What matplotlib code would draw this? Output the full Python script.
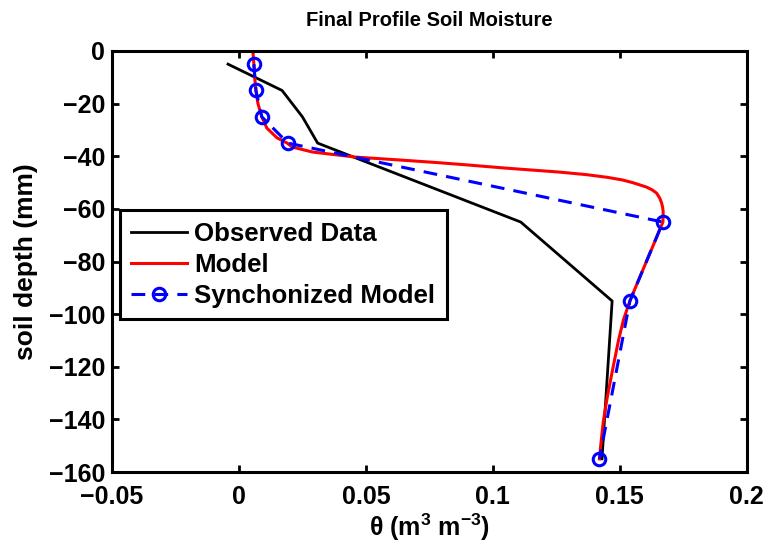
import matplotlib
matplotlib.use("Agg")
import matplotlib.pyplot as plt

plt.rcParams['font.family'] = ['Liberation Sans', 'DejaVu Sans']
plt.rcParams['font.weight'] = 'bold'
plt.rcParams['axes.unicode_minus'] = True
plt.rcParams['mathtext.fontset'] = 'custom'
plt.rcParams['mathtext.rm'] = 'Liberation Sans'
plt.rcParams['mathtext.bf'] = 'Liberation Sans:bold'

# observed profile
obs_depth = [-5, -15, -25, -35, -65, -95, -155]
obs_theta = [-0.0043, 0.017, 0.025, 0.031, 0.111, 0.147, 0.143]

# synchronized model (values at observation depths)
sync_depth = [-5, -15, -25, -35, -65, -95, -155]
sync_theta = [0.0059, 0.0067, 0.009, 0.0193, 0.167, 0.154, 0.142]

# continuous model profile
model_depth = [0, -5, -10, -15, -20, -25, -29.3, -33, -35, -36.5, -38.4, -40.3,
               -41.4, -42.4, -43.3, -44.5, -46, -47, -48, -49, -50, -51.7,
               -52.8, -54, -56, -57.8, -59.5, -61, -65, -72, -80, -88, -95,
               -102, -110, -122, -132, -141, -150, -155]
model_theta = [0.0055, 0.0059, 0.0062, 0.0067, 0.0075, 0.009, 0.011, 0.015,
               0.019, 0.021, 0.029, 0.0457, 0.063, 0.078, 0.09, 0.105, 0.126,
               0.137, 0.145, 0.151, 0.155, 0.1605, 0.1628, 0.1645, 0.1658,
               0.1665, 0.1669, 0.1671, 0.167, 0.164, 0.1605, 0.157, 0.154,
               0.1515, 0.1495, 0.147, 0.145, 0.1435, 0.1425, 0.142]

xticks = [-0.05, 0, 0.05, 0.1, 0.15, 0.2]
xtick_labels = ['\u22120.05', '0', '0.05', '0.1', '0.15', '0.2']
yticks = [0, -20, -40, -60, -80, -100, -120, -140, -160]

fig = plt.figure(figsize=(7.69, 5.46), dpi=100)
ax = fig.add_axes([0.1456, 0.1355, 0.8254, 0.7711])

ax.plot(obs_theta, obs_depth, color='black', lw=2, label='Observed Data')
ax.plot(model_theta, model_depth, color='red', lw=2.2, label='Model')
ax.plot(sync_theta, sync_depth, color='blue', lw=2.2, ls=(0, (4.5, 3)),
        marker='o', ms=9, mfc='none', mec='blue', mew=2.2,
        label='Synchonized Model')

ax.set_xlim(-0.05, 0.2)
ax.set_ylim(-160, 0)
ax.set_xticks(xticks)
ax.set_xticklabels(xtick_labels)
ax.set_yticks(yticks)
ax.tick_params(direction='in', length=5, width=2, labelsize=18,
               top=True, right=True)
ax.tick_params(axis='x', pad=9)
ax.tick_params(axis='y', pad=5)
for spine in ax.spines.values():
    spine.set_linewidth(2.2)

ax.set_title('Final Profile Soil Moisture', fontsize=14.5, fontweight='bold', pad=18)
ax.set_xlabel(r'θ (m$^{\mathbf{3}}$ m$^{\mathbf{-3}}$)', fontsize=18,
              fontweight='bold', labelpad=2)
ax.set_ylabel('soil depth (mm)', fontsize=19, fontweight='bold', labelpad=8)

leg = ax.legend(loc='upper left', bbox_to_anchor=(0.012, 0.622), fontsize=18.6,
                fancybox=False, framealpha=1, edgecolor='black',
                handlelength=2.15, handletextpad=0.3, borderpad=0.45,
                labelspacing=0.27, borderaxespad=0)
leg.get_frame().set_linewidth(2.2)

fig.savefig('out.png', dpi=100)
